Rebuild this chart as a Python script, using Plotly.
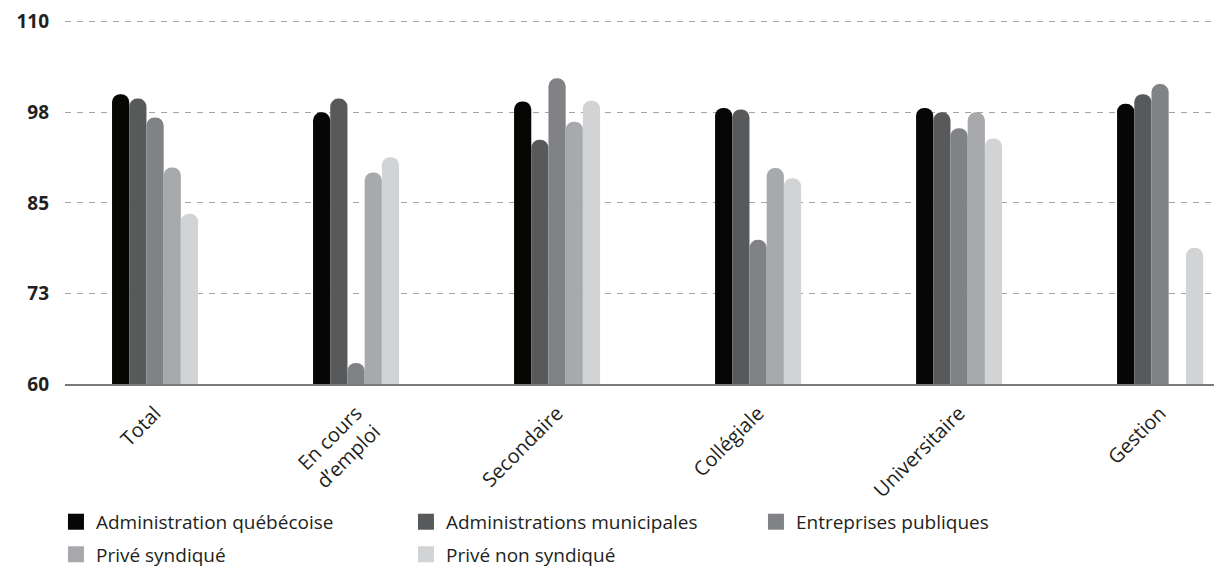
import plotly.graph_objects as go

categories = ["Total", "En cours<br>d’emploi", "Secondaire", "Collégiale", "Universitaire", "Gestion"]
series_names = ["Administration québécoise", "Administrations municipales", "Entreprises publiques",
                "Privé syndiqué", "Privé non syndiqué"]
admin_quebecoise = [100.0, 97.5, 99.0, 98.1, 98.1, 98.7]
admin_municipales = [99.4, 99.4, 93.7, 97.9, 97.5, 100.0]
entreprises_publiques = [96.8, 62.9, 102.2, 79.9, 95.3, 101.4]
prive_syndique = [89.9, 89.2, 96.2, 89.8, 97.5, None]
prive_non_syndique = [83.5, 91.3, 99.1, 88.4, 93.9, 78.8]
y_tickvals = [60, 72.5, 85, 97.5, 110]
y_ticktext = ["60", "73", "85", "98", "110"]

colors = ["#060604", "#58595b", "#808285", "#a7a9ac", "#d1d3d4"]
all_series = [admin_quebecoise, admin_municipales, entreprises_publiques, prive_syndique, prive_non_syndique]
legends = ["legend", "legend", "legend", "legend2", "legend2"]

fig = go.Figure()
for name, vals, col in zip(series_names, all_series, colors):
    fig.add_trace(go.Bar(
        x=categories, y=vals, name=name, showlegend=False,
        marker=dict(color=col, line=dict(width=0), cornerradius="50%"),
    ))
# legend entries (square swatches)
for name, col, lg in zip(series_names, colors, legends):
    fig.add_trace(go.Scatter(
        x=[None], y=[None], mode="markers", name=name, legend=lg,
        marker=dict(symbol="square", size=18, color=col, line=dict(width=0)),
        hoverinfo="skip",
    ))

font_family = "Open Sans, Noto Sans, sans-serif"
legend_common = dict(
    orientation="h", xanchor="left", yanchor="middle",
    xref="container", yref="container",
    font=dict(family=font_family, size=19, color="#231f20"),
    entrywidth=305, entrywidthmode="pixels",
    bgcolor="rgba(0,0,0,0)", itemclick=False, itemdoubleclick=False,
)

fig.update_layout(
    width=1214, height=561,
    margin=dict(l=57, r=0, t=11, b=180),
    paper_bgcolor="white", plot_bgcolor="white",
    barmode="group", bargap=0.572, bargroupgap=0,
    font=dict(family=font_family, color="#231f20"),
    xaxis=dict(
        type="category", range=[-0.448, 5.308],
        tickangle=-45, tickfont=dict(size=20, color="#231f20"),
        showline=True, linecolor="#7a7a7a", linewidth=1.5,
        showgrid=False, ticks="", ticklabelstandoff=8,
        ticklabeloverflow="allow",
    ),
    yaxis=dict(
        range=[60, 110.25], tickvals=y_tickvals, ticktext=y_ticktext,
        tickfont=dict(size=19, color="#231f20", weight="bold"),
        showgrid=True, gridcolor="#a4a4a4", griddash="6px,6px", gridwidth=1,
        zeroline=False, ticklabelstandoff=15, ticklabeloverflow="allow",
    ),
    legend=dict(x=0.0395, y=0.084, **legend_common),
    legend2=dict(x=0.0395, y=0.026, **legend_common),
    showlegend=True,
)

fig.write_html("out.html")
